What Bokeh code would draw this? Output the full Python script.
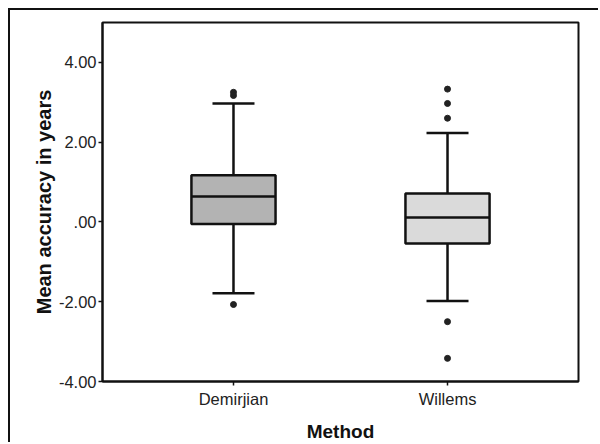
from bokeh.plotting import figure
from bokeh.models import FactorRange, FixedTicker, ColumnDataSource
from bokeh.embed import file_html
from bokeh.resources import INLINE

methods = ["Demirjian", "Willems"]
q1 = [-0.05, -0.54]
median = [0.64, 0.11]
q3 = [1.17, 0.71]
lower_whisker = [-1.79, -1.98]
upper_whisker = [2.97, 2.23]
box_colors = ["#b3b3b3", "#dadada"]

outlier_method = ["Demirjian", "Demirjian", "Demirjian",
                  "Willems", "Willems", "Willems", "Willems", "Willems"]
outlier_value = [3.25, 3.17, -2.07, 3.33, 2.97, 2.60, -2.50, -3.42]

y_ticks = [-4, -2, 0, 2, 4]
y_tick_labels = ["-4.00", "-2.00", ".00", "2.00", "4.00"]

FONT = "Liberation Sans"

p = figure(x_range=FactorRange(factors=methods, range_padding=0.112),
           y_range=(-4, 5), width=590, height=434,
           output_backend="svg", toolbar_location=None,
           min_border_left=92, min_border_top=12,
           min_border_right=22, min_border_bottom=62)
p.styles = {"margin-left": "8px", "margin-top": "8px",
            "border-left": "2px solid #111", "border-top": "2px solid #111"}

src = ColumnDataSource(dict(method=methods, q1=q1, median=median, q3=q3,
                            lo=lower_whisker, hi=upper_whisker, color=box_colors))

# whisker stems
p.segment(x0="method", y0="q3", x1="method", y1="hi", source=src,
          line_color="#111", line_width=2.5)
p.segment(x0="method", y0="lo", x1="method", y1="q1", source=src,
          line_color="#111", line_width=2.5)
# caps
p.scatter(x="method", y="hi", source=src, marker="dash", size=42,
          line_color="#111", line_width=2.5)
p.scatter(x="method", y="lo", source=src, marker="dash", size=42,
          line_color="#111", line_width=2.5)
# boxes
p.vbar(x="method", bottom="q1", top="q3", width=0.393, source=src,
       fill_color="color", line_color="#111", line_width=2.5)
# medians
p.scatter(x="method", y="median", source=src, marker="dash", size=84,
          line_color="#111", line_width=2.5)
# outliers
p.scatter(x=outlier_method, y=outlier_value, marker="circle", size=6,
          fill_color="#222", line_color="#222")

p.xgrid.visible = False
p.ygrid.visible = False
p.outline_line_color = "#111"
p.outline_line_width = 2

p.yaxis.ticker = FixedTicker(ticks=y_ticks)
p.yaxis.major_label_overrides = {t: l for t, l in zip(y_ticks, y_tick_labels)}
p.yaxis.minor_tick_line_color = None
p.yaxis.axis_label = "Mean accuracy in years"
p.xaxis.axis_label = "Method"

for ax in (p.xaxis, p.yaxis):
    ax.axis_line_color = "#111"
    ax.axis_line_width = 2
    ax.major_tick_line_color = "#111"
    ax.major_tick_line_width = 1.5
    ax.major_tick_in = 0
    ax.major_tick_out = 4
    ax.major_label_text_font = FONT
    ax.major_label_text_font_size = "16.5px"
    ax.major_label_text_color = "#222"
    ax.axis_label_text_font = FONT
    ax.axis_label_text_font_size = "19px"
    ax.axis_label_text_font_style = "bold"
    ax.axis_label_text_color = "#111"

p.yaxis.axis_label_text_font_size = "20px"
p.yaxis.major_label_standoff = 2
p.yaxis.axis_label_standoff = 1
p.xaxis.major_label_standoff = 4
p.xaxis.axis_label_standoff = 10

open("out.html", "w").write(file_html(p, INLINE))
